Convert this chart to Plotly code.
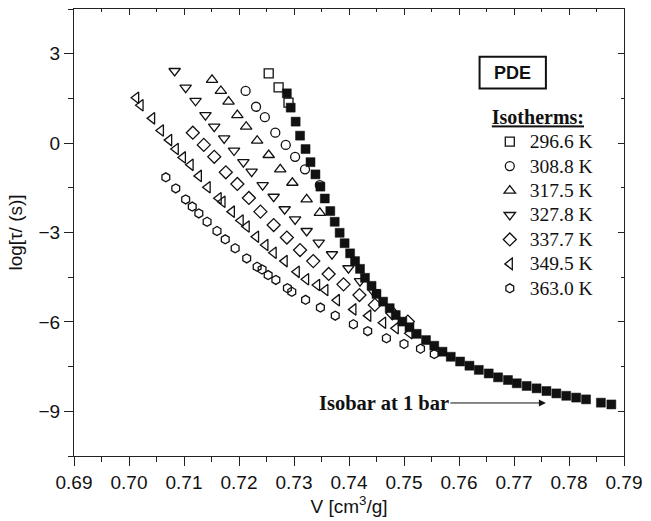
import plotly.graph_objects as go

# Isobar at 1 bar (filled squares)
v_isobar = [0.7287, 0.7294, 0.7303, 0.7311, 0.7321, 0.7330, 0.7339, 0.7348, 0.7356, 0.7366,
            0.7374, 0.7383, 0.7392, 0.7402, 0.7411, 0.7420, 0.7429, 0.7441, 0.7450, 0.7462,
            0.7474, 0.7485, 0.7497, 0.7510, 0.7523, 0.7540, 0.7555, 0.7570, 0.7585, 0.7602,
            0.7619, 0.7636, 0.7654, 0.7671, 0.7689, 0.7705, 0.7723, 0.7741, 0.7759, 0.7777,
            0.7795, 0.7813, 0.7831, 0.7858, 0.7877]
tau_isobar = [1.67, 1.19, 0.72, 0.25, -0.20, -0.64, -1.05, -1.46, -1.86, -2.28,
              -2.64, -3.01, -3.36, -3.70, -3.96, -4.22, -4.52, -4.79, -5.06, -5.32,
              -5.54, -5.77, -5.99, -6.18, -6.40, -6.61, -6.80, -7.00, -7.17, -7.33,
              -7.47, -7.61, -7.73, -7.86, -7.95, -8.06, -8.15, -8.23, -8.32, -8.40,
              -8.48, -8.54, -8.60, -8.71, -8.77]

# Isotherms
v_2966 = [0.7254, 0.7272, 0.7290]
tau_2966 = [2.34, 1.87, 1.36]

v_3088 = [0.7212, 0.7231, 0.7247, 0.7266, 0.7285, 0.7302, 0.7320, 0.7347]
tau_3088 = [1.75, 1.22, 0.87, 0.35, -0.06, -0.46, -0.88, -1.41]

v_3175 = [0.7151, 0.7167, 0.7181, 0.7197, 0.7213, 0.7233, 0.7254, 0.7275, 0.7297, 0.7323, 0.7347]
tau_3175 = [2.12, 1.75, 1.39, 0.94, 0.55, 0.08, -0.40, -0.88, -1.33, -1.89, -2.34]

v_3278 = [0.7083, 0.7103, 0.7121, 0.7139, 0.7155, 0.7173, 0.7191, 0.7208, 0.7223, 0.7243,
          0.7263, 0.7283, 0.7302, 0.7323, 0.7345, 0.7369, 0.7399, 0.7420, 0.7445]
tau_3278 = [2.42, 1.86, 1.42, 0.94, 0.55, 0.16, -0.25, -0.64, -0.96, -1.41,
            -1.80, -2.22, -2.56, -2.95, -3.34, -3.73, -4.20, -4.63, -5.00]

v_3377 = [0.7116, 0.7136, 0.7155, 0.7176, 0.7197, 0.7218, 0.7239, 0.7263, 0.7287, 0.7311,
          0.7335, 0.7363, 0.7390, 0.7419, 0.7447, 0.7479, 0.7507]
tau_3377 = [0.35, -0.06, -0.46, -0.98, -1.37, -1.84, -2.30, -2.75, -3.17, -3.59,
            -3.96, -4.39, -4.74, -5.10, -5.43, -5.71, -5.99]

v_3495 = [0.7013, 0.7021, 0.7042, 0.7058, 0.7073, 0.7085, 0.7098, 0.7112, 0.7127, 0.7143,
          0.7163, 0.7170, 0.7187, 0.7203, 0.7214, 0.7231, 0.7248, 0.7263, 0.7283, 0.7305,
          0.7322, 0.7342, 0.7357, 0.7378, 0.7408, 0.7435, 0.7462, 0.7485, 0.7510]
tau_3495 = [1.52, 1.27, 0.83, 0.42, 0.10, -0.20, -0.48, -0.73, -1.10, -1.48,
            -1.85, -1.97, -2.30, -2.60, -2.80, -3.14, -3.42, -3.68, -3.96, -4.32,
            -4.57, -4.76, -4.93, -5.27, -5.58, -5.79, -6.03, -6.21, -6.38]

v_3630 = [0.7067, 0.7085, 0.7103, 0.7115, 0.7127, 0.7142, 0.7160, 0.7175, 0.7193, 0.7214,
          0.7233, 0.7242, 0.7253, 0.7267, 0.7288, 0.7296, 0.7321, 0.7348, 0.7375, 0.7408,
          0.7434, 0.7468, 0.7500, 0.7530, 0.7555]
tau_3630 = [-1.15, -1.52, -1.89, -2.13, -2.36, -2.64, -2.95, -3.23, -3.53, -3.87,
            -4.15, -4.24, -4.43, -4.59, -4.87, -4.99, -5.26, -5.52, -5.79, -6.08,
            -6.31, -6.55, -6.74, -6.90, -7.08]

isotherm_names = ["296.6 K", "308.8 K", "317.5 K", "327.8 K", "337.7 K", "349.5 K", "363.0 K"]
isotherm_v = [v_2966, v_3088, v_3175, v_3278, v_3377, v_3495, v_3630]
isotherm_tau = [tau_2966, tau_3088, tau_3175, tau_3278, tau_3377, tau_3495, tau_3630]
isotherm_symbols = ["square-open", "circle-open", "triangle-up-open", "triangle-down-open",
                    "diamond-open", "triangle-left-open", "hexagon-open"]
isotherm_sizes = [9, 9, 10, 10, 10, 10, 9]

x_ticks = [0.69, 0.70, 0.71, 0.72, 0.73, 0.74, 0.75, 0.76, 0.77, 0.78, 0.79]
y_ticks = [3, 0, -3, -6, -9]

SANS = "Liberation Sans, Arial, sans-serif"
SERIF = "Liberation Serif, Times New Roman, serif"
AXIS_COLOR = "#222222"
INK = "#111111"

fig = go.Figure()

fig.add_trace(go.Scatter(
    x=v_isobar, y=tau_isobar, mode="markers", showlegend=False,
    marker=dict(symbol="square", size=9, color=INK, line=dict(color=INK, width=0.5)),
))

# legend rows are spaced by the legend font; entry text itself is drawn a bit larger
for name, vx, ty, sym, sz in zip(isotherm_names, isotherm_v, isotherm_tau,
                                 isotherm_symbols, isotherm_sizes):
    fig.add_trace(go.Scatter(
        x=vx, y=ty, mode="markers",
        name=f'<span style="font-size:19.5px">{name}</span>',
        marker=dict(symbol=sym, size=sz, color=INK, line=dict(color=INK, width=1.3)),
    ))

x_range = [0.69, 0.79]
y_range = [-10.5, 4.5]

axis_common = dict(showline=True, linecolor=AXIS_COLOR, linewidth=1.3,
                   showgrid=False, zeroline=False, tickcolor=AXIS_COLOR,
                   tickwidth=1.2)

fig.update_layout(
    width=651, height=521,
    margin=dict(l=74, r=21, t=9, b=65),
    paper_bgcolor="white", plot_bgcolor="white",
    xaxis=dict(
        range=x_range, tickvals=x_ticks, tickformat=".2f",
        ticks="outside", ticklen=9,
        minor=dict(dtick=0.005, tick0=0.69, ticks="outside", ticklen=5,
                   tickcolor=AXIS_COLOR, tickwidth=1.2),
        tickfont=dict(family=SANS, size=19, color=INK),
        title=dict(text="V [cm<sup>3</sup>/g]", standoff=6,
                   font=dict(family=SANS, size=19, color=INK)),
        **axis_common,
    ),
    yaxis=dict(
        range=y_range, tickvals=y_ticks,
        ticks="outside", ticklen=9,
        minor=dict(dtick=1.5, tick0=0, ticks="outside", ticklen=5,
                   tickcolor=AXIS_COLOR, tickwidth=1.2),
        tickfont=dict(family=SANS, size=19, color=INK),
        title=dict(text="log[τ/ (s)]", standoff=10,
                   font=dict(family=SANS, size=19, color=INK)),
        **axis_common,
    ),
    xaxis2=dict(
        range=x_range, overlaying="x", side="top", anchor="y",
        tickvals=x_ticks, showticklabels=False, ticks="inside", ticklen=6,
        minor=dict(dtick=0.005, tick0=0.69, ticks="inside", ticklen=3,
                   tickcolor=AXIS_COLOR, tickwidth=1),
        **axis_common,
    ),
    yaxis2=dict(
        range=y_range, overlaying="y", side="right", anchor="x",
        tickvals=y_ticks, showticklabels=False, ticks="inside", ticklen=6,
        minor=dict(dtick=1.5, tick0=0, ticks="inside", ticklen=3,
                   tickcolor=AXIS_COLOR, tickwidth=1),
        **axis_common,
    ),
    legend=dict(
        x=0.756, y=0.80, xanchor="left", yanchor="top",
        bgcolor="rgba(0,0,0,0)", borderwidth=0,
        font=dict(family=SERIF, size=16.5, color=INK),
        title=dict(text="<b><u>Isotherms:</u></b>",
                   font=dict(family=SERIF, size=20, color=INK)),
        itemsizing="trace", tracegroupgap=0,
    ),
    showlegend=True,
)

# empty trace so the mirrored frame axes are drawn
fig.add_trace(go.Scatter(x=[], y=[], xaxis="x2", yaxis="y2", showlegend=False,
                         hoverinfo="skip"))

# sample label box
fig.add_shape(type="rect", xref="paper", yref="paper",
              x0=0.7374, x1=0.858, y0=0.822, y1=0.893,
              line=dict(color=INK, width=2), fillcolor="white")
fig.add_annotation(xref="paper", yref="paper", x=0.7977, y=0.8575,
                   xanchor="center", yanchor="middle",
                   text="<b>PDE</b>", showarrow=False,
                   font=dict(family=SANS, size=18, color=INK))

# isobar label with arrow
fig.add_annotation(x=0.7758, y=-8.72, xref="x", yref="y",
                   text="<b>Isobar at 1 bar</b>", showarrow=True,
                   ax=-162, ay=0, arrowhead=2, arrowsize=1.4, arrowwidth=1,
                   arrowcolor=INK, standoff=0,
                   font=dict(family=SERIF, size=20.5, color=INK))

fig.write_html("out.html")
